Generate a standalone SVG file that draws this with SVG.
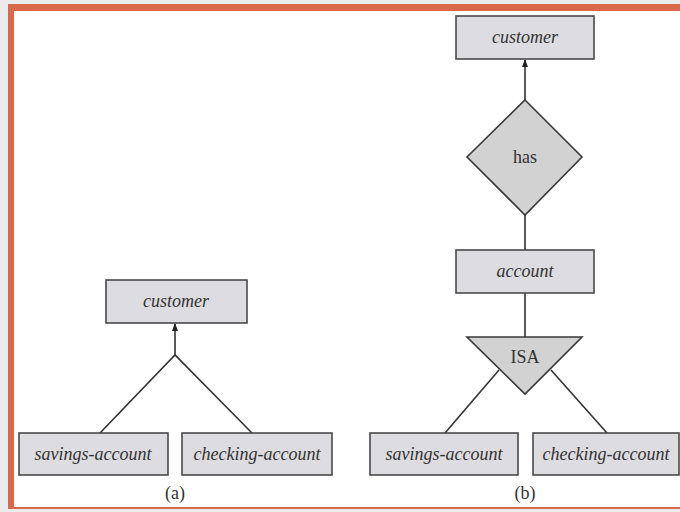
<svg xmlns="http://www.w3.org/2000/svg" width="680" height="512" viewBox="0 0 680 512">
<defs>
<style>
.ent{fill:#dddce0;stroke:#4a4a4a;stroke-width:1.6}
.rel{fill:#d2d2d2;stroke:#3a3a3a;stroke-width:1.6}
.ln{stroke:#333;stroke-width:1.6;fill:none}
.it{font-family:"Liberation Serif",serif;font-style:italic;font-size:18px;fill:#333;text-anchor:middle}
.rm{font-family:"Liberation Serif",serif;font-size:18px;fill:#333;text-anchor:middle}
</style>
<marker id="arr" markerWidth="8" markerHeight="8" refX="7" refY="4" orient="auto" markerUnits="userSpaceOnUse">
<path d="M0,1 L8,4 L0,7 z" fill="#222"/>
</marker>
</defs>
<rect x="0" y="0" width="680" height="512" fill="#ebebeb"/>
<rect x="11" y="8" width="680" height="500" fill="#fff" stroke="#d9694a" stroke-width="2"/>
<rect x="9" y="4" width="680" height="7" fill="#d9694a"/>
<rect x="8" y="4" width="6" height="505" fill="#d9694a"/>
<g id="connectors">
<line class="ln" x1="175" y1="355" x2="175" y2="324" marker-end="url(#arr)"/>
<polyline class="ln" points="100,433 175,355 252,433"/>
<line class="ln" x1="525" y1="100" x2="525" y2="60" marker-end="url(#arr)"/>
<line class="ln" x1="525" y1="215" x2="525" y2="250" stroke="#777"/>
<line class="ln" x1="525" y1="293" x2="525" y2="337" stroke="#777"/>
<line class="ln" x1="499" y1="370" x2="445" y2="433"/>
<line class="ln" x1="551" y1="370" x2="607" y2="433"/>
</g>
<g id="a-customer"><rect class="ent" x="106" y="280" width="141" height="43"/><text class="it" x="176" y="307">customer</text></g>
<g id="a-savings"><rect class="ent" x="19" y="433" width="149" height="42"/><text class="it" x="93" y="460">savings-account</text></g>
<g id="a-checking"><rect class="ent" x="182" y="433" width="150" height="42"/><text class="it" x="257" y="460">checking-account</text></g>
<g id="b-customer"><rect class="ent" x="456" y="16" width="138" height="43"/><text class="it" x="525" y="43">customer</text></g>
<g id="b-has"><polygon class="rel" points="525,100 582,157 525,215 467,157"/><text class="rm" x="525" y="163">has</text></g>
<g id="b-account"><rect class="ent" x="456" y="250" width="138" height="43"/><text class="it" x="525" y="277">account</text></g>
<g id="b-isa"><polygon class="rel" points="467,337 582,337 525,394"/><text class="rm" x="525" y="363">ISA</text></g>
<g id="b-savings"><rect class="ent" x="370" y="433" width="148" height="42"/><text class="it" x="444" y="460">savings-account</text></g>
<g id="b-checking"><rect class="ent" x="533" y="433" width="146" height="42"/><text class="it" x="606" y="460">checking-account</text></g>
<text class="rm" x="175" y="499" font-size="15">(a)</text>
<text class="rm" x="525" y="499" font-size="15">(b)</text>
</svg>
